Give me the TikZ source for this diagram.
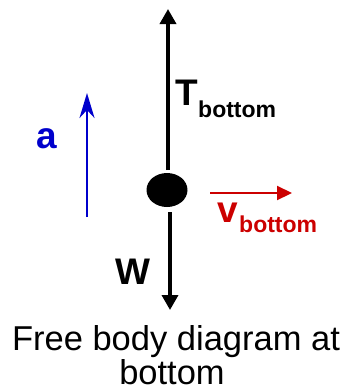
\documentclass[tikz,border=0pt]{standalone}
\usepackage{fontspec}
\setmainfont{Liberation Sans}
\usetikzlibrary{arrows.meta,shapes.geometric}
\definecolor{ablue}{RGB}{0,0,204}
\definecolor{vred}{RGB}{204,0,0}
\begin{document}
\begin{tikzpicture}[x=1pt,y=-1pt,
  force/.style={line width=3.5pt,-{Triangle[width=16pt,length=15pt]}},
  lbl/.style={inner sep=0pt,anchor=base west,font=\fontsize{37}{37}\selectfont\bfseries},
  sub/.style={inner sep=0pt,anchor=base west,font=\fontsize{23}{23}\selectfont\bfseries},
  captext/.style={inner sep=0pt,anchor=base,font=\fontsize{34.5}{34}\selectfont}]
\useasboundingbox (0,0) rectangle (344,392);
\node[ellipse,fill=black,minimum width=41pt,minimum height=34pt,inner sep=0pt] (body) at (167,190) {};
\coordinate (tbot) at (168,170);
\coordinate (ttip) at (168,9);
\coordinate (wtop) at (170,212);
\coordinate (wtip) at (170,310);
\draw[force] (tbot) -- (ttip);
\draw[force] (wtop) -- (wtip);
\coordinate (abot) at (87,217);
\coordinate (atop) at (87,93);
\draw[ablue,line width=2.5pt,-{Stealth[width=15pt,length=25pt,inset=8pt]}] (abot) -- (atop);
\coordinate (vl) at (210,193);
\coordinate (vr) at (292,193);
\draw[vred,line width=2.2pt,-{Triangle[width=14pt,length=15pt]}] (vl) -- (vr);
\node[lbl] (T) at (175,105) {T};
\node[sub] (Tsub) at (198,117) {bottom};
\node[lbl,text=ablue] (a) at (36,148) {a};
\node[lbl,text=vred] (v) at (217,222) {v};
\node[sub,text=vred] (vsub) at (239,232) {bottom};
\node[lbl] (W) at (115,284) {W};
\node[captext] (cap1) at (176,350) {Free body diagram at};
\node[captext] (cap2) at (172,384) {bottom};
\end{tikzpicture}
\end{document}
